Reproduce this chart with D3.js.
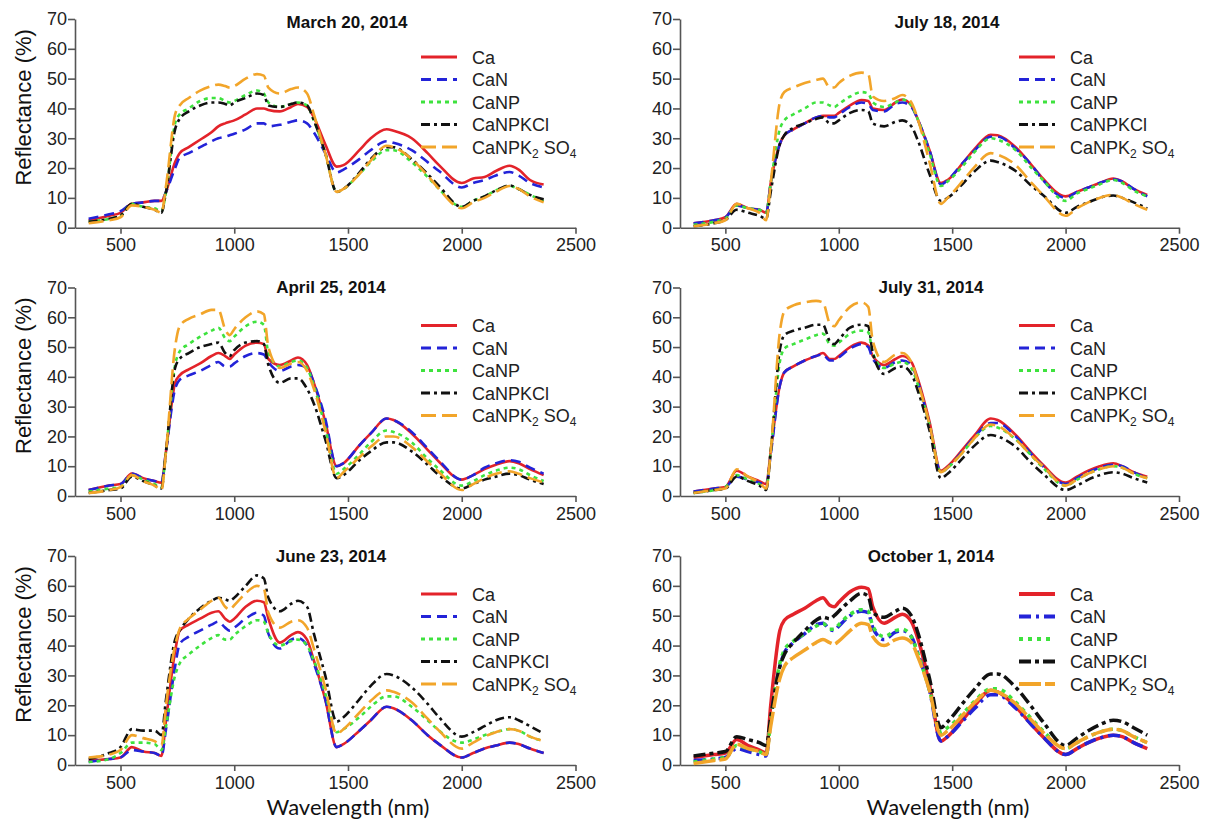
<!DOCTYPE html>
<html><head><meta charset="utf-8">
<script src="https://cdn.jsdelivr.net/npm/d3@7"></script>
<style>body{margin:0;background:#fff;} svg{display:block;}</style>
</head><body>
<svg id="chart" width="1208" height="820"></svg>
<script>
// ---- data ----
const wavelengths = [360,450,500,550,600,650,680,700,740,760,800,850,900,930,960,980,1000,1050,1100,1130,1150,1200,1250,1280,1320,1350,1400,1450,1480,1550,1600,1670,1700,1780,1850,1900,2000,2050,2100,2150,2210,2250,2300,2360];
const seriesNames = ["Ca","CaN","CaNP","CaNPKCl","CaNPK2SO4"];
const panelTitles = ["March 20, 2014","July 18, 2014","April 25, 2014","July 31, 2014","June 23, 2014","October 1, 2014"];
const xTicks = [500,1000,1500,2000,2500];
const yTicks = [0,10,20,30,40,50,60,70];

const march20 = [
 [2.5,4,5,8,8.5,9,9,12,22,25,27,29.5,32,34,35,35.5,36,38,40,40,39.5,39,40.5,41.5,40.5,37,28,20.5,21,26,30,33,32.5,30,25,21,15,16.5,17,19,20.8,19.5,16,14.5],
 [3,4.5,5.5,8,8.5,9,9,12,20,23.5,25,27,29,30,30.5,31,31.5,33,35,35,34,34.5,35.5,36,35,32,25,18.5,19.5,23,26,29,28.5,26,22,19,13.5,15,16,17.5,18.7,17.5,15,13.5],
 [2,3,4,8,7,6.5,5.5,12,35,38,40,42.5,43.5,43.5,42.5,42,42.5,44.5,46,45,42,40.5,41.5,42,41,36,25,12,13,18,22,26,26,22,17,13,7,9,10.5,12.5,14,13,11,9],
 [2,3,4,8,7,6,5,12,33,36.5,39,41,42,42,41.5,41,42,43.5,45,44.5,41,40.5,41.5,42,41,36,25,12,13,18.5,23,27,27,23,18,14,7,9,10.5,12.5,14.2,13,11,9.5],
 [1.5,2.5,3.5,7.5,7,6,5,14,38,41,43.5,46,47.5,48,47.5,47,47.5,50,51.5,51,47,45,46.5,47,45,38,25,12,13,18,22.5,27.5,27,23,17.5,13,6.5,8.5,10,12,14,13,10.5,8.5]
];
const july18 = [
 [1.5,2.5,3.5,8,6.5,6,5,15,28,31,33,35,37,37.5,37.5,37.5,38.5,41,42.8,42.5,40,39.5,42,43,41,36,26,15,16,22,26.5,31.2,31,27,21,16.5,10.5,12,13.5,15,16.5,15.5,13,11],
 [1.5,2.5,3.5,7.5,6.5,6,5,15,28,31,33,35,37,37.5,37,37,38,40.5,42,41.5,39.5,39,41.5,42,40.5,36,26,14.5,16,22,26,30.5,30.5,26.5,21,16,10,12,13.5,15,16.2,15.5,13,10.5],
 [1,2,3,7.5,6.5,6,5,15,33,36,38,40,42,42,41,40.5,41.5,44,45.5,45,42,40.5,42,43,41,36,25,14,15.5,21,25.5,30,29.5,26,20,16,9,11.5,13,14.5,16,15,12.5,10.5],
 [0.5,1.5,2.5,6,5,4,3,12,28,31,33.5,35,36.5,37,35,35,36,38.5,39.5,39,35,34,35.5,36,34,29,18,9,10,15,19,22.5,22,19,14,11,5,7,8.5,10,10.8,10,8.5,6.5],
 [0.5,1.5,2.5,8,6.5,5,2.5,15,42,45.5,47,48.5,49.5,50,47,47,48.5,51,52,51.5,44,42.5,43.5,44.5,42,36,22,8,10,16,20.5,25,24.5,21,15,11,4,6.5,8.5,10,11,10,8,6]
];
const april25 = [
 [2,3.5,4,7.5,6,5,4.5,15,38,40.5,42.5,44.5,47,48,47,46,47.5,50.5,51.5,51,46,44,45.5,46.5,44,38,25,10,11,17,21,26,25.5,21,15.5,11.5,5.5,7,9,10.5,11.7,11,9,7],
 [2,3.5,4,7.5,6,5,4.5,15,36,39,40.5,42,44,45,43.5,43.5,44.5,47,48,47.5,45,42,43.5,44,43,38,26,10,11,17,21,26,25.5,21.5,16,12,5.5,7,9.5,11,12,11.5,9.5,7.5],
 [1.5,2.5,3,7,5.5,4,3,15,44,48.5,51,53.5,55.5,56.5,53,52,53.5,57,58.5,57.5,48,43.5,45,45.5,43,37,23,7.5,9,14,18,22,21.5,18,12.5,9,3.5,5,7,8.5,9.5,9,7,5],
 [1,2,2.5,6.5,5,3.5,2.5,15,43,46,48,50,51,51.5,48,47,49,51.5,52,51,44,38,39.5,39.5,36,31,19,6,7,12,15,18,18,15,10.5,7,2.5,4,5.5,6.5,7.5,7,5.5,4],
 [1,2,3,7,5,3.5,2,15,50,57,59.5,61,62.5,62.5,56,54,56,60,62,61,50,43,44.5,45,42,36,22,6,8,13,16.5,20,20,16.5,11.5,8,2,4,6,7.5,8.3,7.5,6,4.5]
];
const july31 = [
 [1.5,2.5,3,8.5,6.5,5,4,15,37,41.5,43.5,45.5,47,48,46,46,47,50,51.5,50.5,47,44,46,47,45,39,25,8.5,10,16,20.5,26,25.5,20.5,14.5,10.5,4.5,6.5,8.5,10,11,10,8,6.5],
 [1.5,2.5,3,6.5,5.5,4.5,3.5,14,37,41.5,43.5,45.5,47,47.5,45.5,45.5,46.5,49.5,51,50,46,43,45,45.5,44,38,24,8,9.5,15.5,20,24.5,24.5,20,14,10,4,6,8,9.5,10.5,10,8,6],
 [1,2,3,7,5.5,4,2.5,15,45,49.5,51,52.5,54,54.5,51,50.5,51.5,54.5,55.5,55,48,43,44.5,45,43,37,24,8,9.5,15,19.5,23.5,23,19,13.5,9.5,3.5,5.5,7.5,9,10,9.5,7.5,6],
 [1,2,2.5,6.5,5,3.5,2,15,49,54,55.5,56.5,57.5,57.5,52,51,52.5,56.5,57.5,57,48,41,43,43.5,41,35,22,6,7.5,13,17,20.5,20,16.5,11,7.5,2,3.5,5.5,7,8,7.5,6,4.5],
 [1,2,2.5,9,6.5,4.5,2.5,15,55,62,64,65,65.5,65,58,57,59,63.5,65,63.5,52,45,47.5,48,45,38,24,8,9.5,15,19.5,24,23.5,19,13.5,10,3.5,5.5,7.5,9,10,9.5,7.5,6]
];
const june23 = [
 [1.5,2,2.5,6,4.5,4,3,15,38,45,47,49,51,51.5,49,48,49,53,55,54.5,49,41,43.5,44.5,42,35,22,6,7,11.5,15,19.5,19,15,10,7,2.5,4,5.5,6.5,7.5,7,5.5,4],
 [1,2,2.5,5,4.5,4,3,12,33,40.5,43,45,47,48,46,45,46,49,51,50,44,39,42,42.5,40,34,22,6,7,11.5,15,19.5,19,15,10,7,2.5,4,5.5,6.5,7.5,7,5.5,4],
 [1,2,4,7.5,7.5,7,5,13,30,34,37,40,42.5,43.5,42,42,43.5,46.5,48.5,48,44,40,41.5,42,40,35,24,11,12,16,19.5,23,23,19.5,15,11.5,7.5,8.5,10,11,12,11.5,9.5,8],
 [2,4,6,12,11.5,11.5,10,22,42,45,49,52.5,55,56,55.5,55,56,60,63.5,62.5,56,51.5,54,55,53,44,30,14.5,16,22,26.5,30.5,30,26,20.5,16,9.5,11,13,15,16,15,13,10.5],
 [2.5,3.5,5,10,9,8,6.5,20,40,45.5,49,52,55,56,53,52,53.5,57.5,60,59,51,46,48,48.5,46,39,26,10.5,12,17.5,21.5,25,24.5,21,15.5,11.5,5.5,7.5,9.5,11,12,11.5,9.5,8]
];
const october1 = [
 [2.5,3.5,4,8.5,6.5,5,4,20,45,48.5,50.5,52.5,55,56,53.5,53,54.5,58,59.5,59,53,47.5,49.5,50.5,48,42,27,8,9.5,15.5,20,25,24.5,19.5,13.5,9.5,3.5,5.5,7.5,9,10,9.5,7.5,5.5],
 [1.5,2,2.5,5.5,4.5,3.5,3,15,33,37.5,41,44,47,47.5,45.5,45,46.5,50,51.5,51,46,42,44.5,45,43,37,25,8,9.5,15,19,23.5,23.5,19,13.5,9.5,3.5,5.5,7.5,9,10,9.5,7.5,5.5],
 [1,2,2.5,6.5,5.5,4.5,3.5,15,34,38.5,41.5,44,46.5,47.5,45.5,45.5,47,50.5,52,51.5,46.5,43,45,45.5,43,37,25,11,12.5,17.5,21.5,25.5,25.5,21,15.5,11.5,5.5,7.5,9.5,11,12,11.5,9.5,7.5],
 [3,4,4.5,9.5,8.5,7.5,6.5,16,33,37,41,45,48.5,49.5,49,50,51.5,55,57.5,56.5,51,49.5,51.5,52.5,50,44,29,12.5,14.5,21,25.5,30.5,30.5,26,19.5,14.5,6.5,9,11.5,13.5,15,14.5,12.5,10],
 [0.5,1.5,2,7,5.5,4.5,3.5,13,29,33,36,38.5,41,42,41,40.5,41.5,45,47.5,47,43,40,42,42.5,41,36,25,10,11.5,17,21,25,24.5,20.5,15,11,5.5,7.5,9.5,11,12,11.5,9.5,7.5]
];
const panelData = [march20, july18, april25, july31, june23, october1];

// ---- styles ----
const colors = ["#e3232a","#2323d8","#3ee23e","#111111","#f2a52a"];
const dashNormal = [null,"10,6","4,4","9,4,3,4","15,6"];
const dashBold = [null,"12,5,3,5","4,5","12,4,4,4","22,4"];

const cols = [{x0:75,x1:575.5,legX:421,titleX:[347,331,331]},{x0:680,x1:1179,legX:1019,titleX:[947,931,931]}];
const rows = [{yTop:19,yBot:227.7,titleY:28},{yTop:287.5,yBot:496,titleY:293},{yTop:556,yBot:765,titleY:562}];

const svg = d3.select("#chart");

panelData.forEach((data,pi)=>{
  const r = Math.floor(pi/2), c = pi%2;
  const col = cols[c], row = rows[r];
  const bold = pi===5;
  const x = d3.scaleLinear().domain([300,2500]).range([col.x0,col.x1]);
  const y = d3.scaleLinear().domain([0,70]).range([row.yBot,row.yTop]);
  const g = svg.append("g");

  // axes
  const xa = g.append("g").attr("transform",`translate(0,${row.yBot})`)
    .call(d3.axisBottom(x).tickValues(xTicks).tickFormat(d3.format("d")).tickSize(6).tickSizeOuter(0).tickPadding(5));
  const ya = g.append("g").attr("transform",`translate(${col.x0},0)`)
    .call(d3.axisLeft(y).tickValues(yTicks).tickFormat(d3.format("d")).tickSize(7).tickSizeOuter(0).tickPadding(1));
  [xa,ya].forEach(a=>{
    a.selectAll("path,line").attr("stroke","#555").attr("stroke-width",1.6);
    a.selectAll("text").attr("font-family","Liberation Sans, Arial, sans-serif").attr("font-size",18).attr("fill","#222");
  });

  // lines
  const line = d3.line().x((d,i)=>x(wavelengths[i])).y(d=>y(d)).curve(d3.curveMonotoneX);
  data.forEach((vals,si)=>{
    g.append("path").datum(vals).attr("d",line)
      .attr("fill","none").attr("stroke",colors[si])
      .attr("stroke-width", bold?3.5:2.6)
      .attr("stroke-dasharray", bold?dashBold[si]:dashNormal[si]);
  });

  // title
  g.append("text").attr("x",col.titleX[r]).attr("y",row.titleY).attr("text-anchor","middle")
    .attr("font-family","Liberation Sans, Arial, sans-serif").attr("font-weight","bold")
    .attr("font-size",17).attr("fill","#111").text(panelTitles[pi]);

  // legend
  seriesNames.forEach((nm,si)=>{
    const ly = row.yTop + 38 + si*22.5;
    g.append("line").attr("x1",col.legX).attr("x2",col.legX+36).attr("y1",ly).attr("y2",ly)
      .attr("stroke",colors[si]).attr("stroke-width",bold?4:3)
      .attr("stroke-dasharray", bold?dashBold[si]:dashNormal[si]);
    const t = g.append("text").attr("x",col.legX+51).attr("y",ly+6.5)
      .attr("font-family","Liberation Sans, Arial, sans-serif").attr("font-size",18).attr("fill","#222");
    if(nm==="CaNPK2SO4"){
      t.append("tspan").text("CaNPK");
      t.append("tspan").attr("font-size",12).attr("dy",4).text("2");
      t.append("tspan").attr("dy",-4).text(" SO");
      t.append("tspan").attr("font-size",12).attr("dy",4).text("4");
    } else t.text(nm);
  });

  // y label
  if(c===0){
    const cy = (row.yTop+row.yBot)/2 - 16;
    g.append("text").attr("transform",`translate(31,${cy}) rotate(-90)`).attr("text-anchor","middle")
      .attr("font-family","Liberation Sans, Arial, sans-serif").attr("font-size",22).attr("fill","#111")
      .text("Reflectance (%)");
  }
  // x label
  if(r===2){
    g.append("text").attr("x",col.titleX[2]+17).attr("y",815).attr("text-anchor","middle")
      .attr("font-family","Lato, Open Sans, sans-serif").attr("font-size",22).attr("fill","#111")
      .text("Wavelength (nm)");
  }
});
</script>
</body></html>
